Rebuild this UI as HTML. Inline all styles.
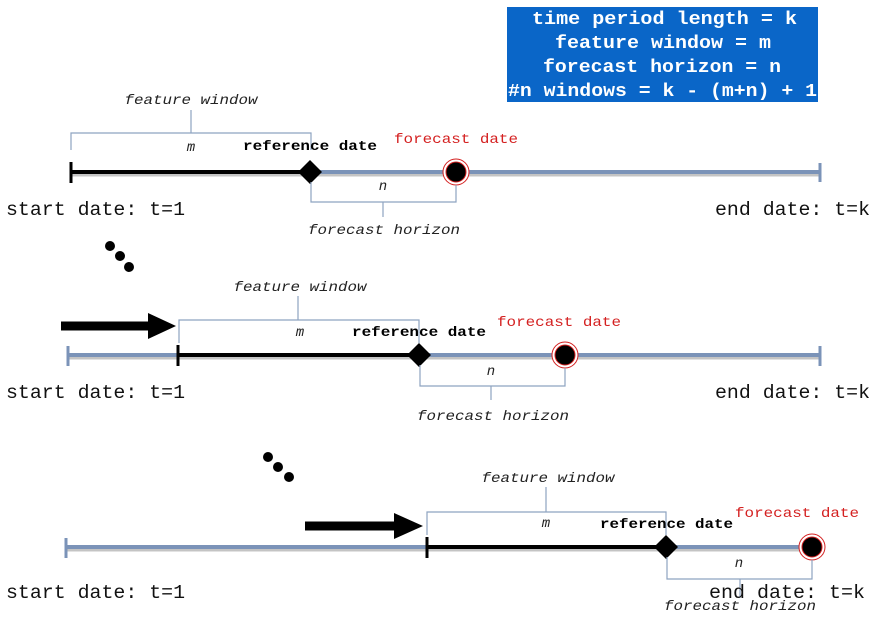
<!DOCTYPE html>
<html><head><style>body{margin:0;background:#fff}svg{display:block}</style></head>
<body>
<svg width="871" height="631" viewBox="0 0 871 631" xmlns="http://www.w3.org/2000/svg">
<defs>
<style>
.mono{font-family:"Liberation Mono",monospace}
.lbl{font-family:"Liberation Mono",monospace;font-style:italic;font-size:14px;fill:#222}
.big{font-family:"Liberation Mono",monospace;font-size:19px;fill:#111}
.ref{font-family:"Liberation Mono",monospace;font-weight:bold;font-size:14px;fill:#000}
.fc{font-family:"Liberation Mono",monospace;font-size:14px;fill:#d42020}
.br{fill:none;stroke:#8ea3c0;stroke-width:1.2}
</style>
</defs>
<rect x="507" y="7" width="311" height="95" fill="#0a66c8"/>
<g class="mono" font-weight="bold" font-size="18" fill="#fff">
<text x="532" y="24" textLength="265" lengthAdjust="spacingAndGlyphs">time period length = k</text>
<text x="555" y="48" textLength="216" lengthAdjust="spacingAndGlyphs">feature window = m</text>
<text x="543" y="72" textLength="238" lengthAdjust="spacingAndGlyphs">forecast horizon = n</text>
<text x="508" y="96" textLength="309" lengthAdjust="spacingAndGlyphs">#n windows = k - (m+n) + 1</text>
</g>

<!-- Row 1 -->
<line x1="72" y1="174" x2="820" y2="174" stroke="#c4c4c4" stroke-width="5"/>
<line x1="310" y1="172" x2="820" y2="172" stroke="#7b93b8" stroke-width="4"/>
<line x1="820" y1="163" x2="820" y2="182" stroke="#7b93b8" stroke-width="3"/>
<line x1="71" y1="172" x2="310" y2="172" stroke="#000" stroke-width="4"/>
<line x1="71" y1="162" x2="71" y2="183" stroke="#000" stroke-width="3"/>
<polygon points="310,160 322,172 310,184 298,172" fill="#000"/>
<circle cx="456" cy="172" r="13" fill="#fff" stroke="#d42020" stroke-width="1"/>
<circle cx="456" cy="172" r="10" fill="#000" stroke="#d42020" stroke-width="1"/>
<path class="br" d="M71,150 V133 H311 V150 M191,133 V110"/>
<path class="br" d="M311,182 V202 H456 V185 M383,202 V217"/>
<text class="lbl" x="191" y="104" text-anchor="middle" textLength="133" lengthAdjust="spacingAndGlyphs">feature window</text>
<text class="lbl" x="191" y="151" text-anchor="middle">m</text>
<text class="ref" x="243" y="150" textLength="134" lengthAdjust="spacingAndGlyphs">reference date</text>
<text class="fc" x="394" y="143" textLength="124" lengthAdjust="spacingAndGlyphs">forecast date</text>
<text class="lbl" x="383" y="190" text-anchor="middle">n</text>
<text class="lbl" x="384" y="234" text-anchor="middle" textLength="152" lengthAdjust="spacingAndGlyphs">forecast horizon</text>
<text class="big" x="6" y="215" textLength="179" lengthAdjust="spacingAndGlyphs">start date: t=1</text>
<text class="big" x="715" y="215" textLength="155" lengthAdjust="spacingAndGlyphs">end date: t=k</text>
<circle cx="110" cy="246" r="5"/><circle cx="120" cy="256" r="5"/><circle cx="129" cy="267" r="5"/>

<!-- Row 2 -->
<line x1="69" y1="357" x2="820" y2="357" stroke="#c4c4c4" stroke-width="5"/>
<line x1="68" y1="355" x2="820" y2="355" stroke="#7b93b8" stroke-width="4"/>
<line x1="68" y1="346" x2="68" y2="366" stroke="#7b93b8" stroke-width="3"/>
<line x1="820" y1="346" x2="820" y2="366" stroke="#7b93b8" stroke-width="3"/>
<line x1="178" y1="355" x2="419" y2="355" stroke="#000" stroke-width="4"/>
<line x1="178" y1="345" x2="178" y2="366" stroke="#000" stroke-width="3"/>
<polygon points="419,343 431,355 419,367 407,355" fill="#000"/>
<circle cx="565" cy="355" r="13" fill="#fff" stroke="#d42020" stroke-width="1"/>
<circle cx="565" cy="355" r="10" fill="#000" stroke="#d42020" stroke-width="1"/>
<path class="br" d="M179,343 V320 H419 V343 M298,320 V296"/>
<path class="br" d="M420,365 V386 H565 V368 M491,386 V400"/>
<text class="lbl" x="300" y="291" text-anchor="middle" textLength="133" lengthAdjust="spacingAndGlyphs">feature window</text>
<text class="lbl" x="300" y="336" text-anchor="middle">m</text>
<text class="ref" x="352" y="336" textLength="134" lengthAdjust="spacingAndGlyphs">reference date</text>
<text class="fc" x="497" y="326" textLength="124" lengthAdjust="spacingAndGlyphs">forecast date</text>
<text class="lbl" x="491" y="375" text-anchor="middle">n</text>
<text class="lbl" x="493" y="420" text-anchor="middle" textLength="152" lengthAdjust="spacingAndGlyphs">forecast horizon</text>
<text class="big" x="6" y="398" textLength="179" lengthAdjust="spacingAndGlyphs">start date: t=1</text>
<text class="big" x="715" y="398" textLength="155" lengthAdjust="spacingAndGlyphs">end date: t=k</text>
<line x1="61" y1="326" x2="152" y2="326" stroke="#000" stroke-width="9"/>
<polygon points="148,313 176,326 148,339" fill="#000"/>

<!-- Row 3 -->
<circle cx="268" cy="457" r="5"/><circle cx="278" cy="467" r="5"/><circle cx="289" cy="477" r="5"/>
<line x1="67" y1="549" x2="812" y2="549" stroke="#c4c4c4" stroke-width="5"/>
<line x1="66" y1="547" x2="812" y2="547" stroke="#7b93b8" stroke-width="4"/>
<line x1="66" y1="538" x2="66" y2="558" stroke="#7b93b8" stroke-width="3"/>
<line x1="427" y1="547" x2="665" y2="547" stroke="#000" stroke-width="4"/>
<line x1="427" y1="537" x2="427" y2="558" stroke="#000" stroke-width="3"/>
<polygon points="666,535 678,547 666,559 654,547" fill="#000"/>
<circle cx="812" cy="547" r="13" fill="#fff" stroke="#d42020" stroke-width="1"/>
<circle cx="812" cy="547" r="10" fill="#000" stroke="#d42020" stroke-width="1"/>
<path class="br" d="M427,535 V512 H666 V535 M546,512 V487"/>
<path class="br" d="M667,557 V579 H812 V560 M740,579 V598"/>
<text class="lbl" x="548" y="482" text-anchor="middle" textLength="133" lengthAdjust="spacingAndGlyphs">feature window</text>
<text class="lbl" x="546" y="527" text-anchor="middle">m</text>
<text class="ref" x="600" y="528" textLength="133" lengthAdjust="spacingAndGlyphs">reference date</text>
<text class="fc" x="735" y="517" textLength="124" lengthAdjust="spacingAndGlyphs">forecast date</text>
<text class="lbl" x="739" y="567" text-anchor="middle">n</text>
<text class="lbl" x="740" y="610" text-anchor="middle" textLength="152" lengthAdjust="spacingAndGlyphs">forecast horizon</text>
<text class="big" x="6" y="598" textLength="179" lengthAdjust="spacingAndGlyphs">start date: t=1</text>
<text class="big" x="709" y="598" textLength="156" lengthAdjust="spacingAndGlyphs">end date: t=k</text>
<line x1="305" y1="526" x2="398" y2="526" stroke="#000" stroke-width="9"/>
<polygon points="394,513 423,526 394,539" fill="#000"/>
</svg>
</body></html>
